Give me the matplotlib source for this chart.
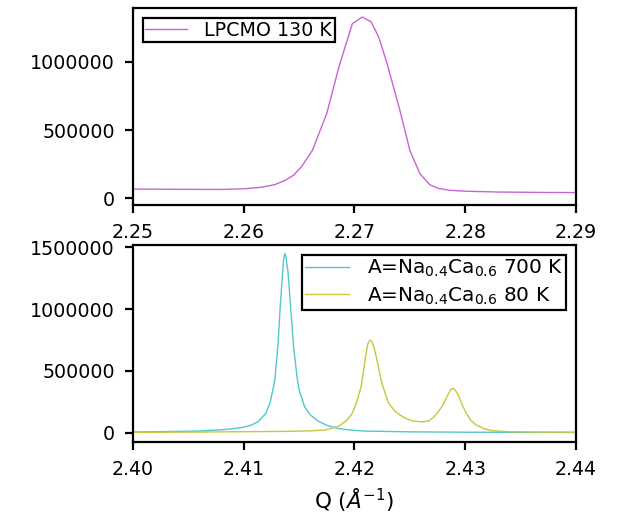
import numpy as np
import matplotlib
matplotlib.use('Agg')
import matplotlib.pyplot as plt

# Data
q_lpcmo = [2.250, 2.254, 2.258, 2.260, 2.2615, 2.2628, 2.2638, 2.2645, 2.2652, 2.2662,
           2.2675, 2.2686, 2.2698, 2.2707, 2.2715, 2.2722, 2.2729, 2.2741, 2.2750, 2.2759,
           2.2768, 2.2776, 2.2786, 2.2800, 2.2831, 2.2870, 2.2900]
i_lpcmo = [68000, 66000, 65000, 70000, 80000, 100000, 134000, 170000, 230000, 352000,
           623000, 965000, 1280000, 1330000, 1295000, 1180000, 1000000, 646000, 352000, 181000,
           100000, 72000, 59000, 52000, 46000, 43000, 42000]

q_700 = [2.400, 2.403, 2.406, 2.408, 2.409, 2.4100, 2.4107, 2.4113, 2.4120, 2.4124,
         2.4128, 2.4131, 2.4133, 2.4135, 2.4136, 2.4137, 2.4138, 2.4140, 2.4142, 2.4145,
         2.4148, 2.4150, 2.4155, 2.4160, 2.4167, 2.4175, 2.4185, 2.4195, 2.421, 2.425,
         2.430, 2.435, 2.440]
i_700 = [6000, 9000, 14000, 24000, 32000, 45000, 62000, 90000, 157000, 250000,
         420000, 720000, 1030000, 1280000, 1400000, 1450000, 1430000, 1300000, 1060000, 700000,
         460000, 345000, 210000, 145000, 95000, 60000, 35000, 22000, 13000, 7000,
         4000, 3000, 2000]

q_80 = [2.400, 2.405, 2.410, 2.414, 2.416, 2.4174, 2.4186, 2.4193, 2.4198, 2.4202,
        2.4206, 2.4210, 2.4212, 2.4214, 2.4216, 2.4218, 2.4221, 2.4224, 2.4228, 2.4231,
        2.4236, 2.4241, 2.4247, 2.4253, 2.4261, 2.4267, 2.4272, 2.4279, 2.4284, 2.4287,
        2.4289, 2.4291, 2.4294, 2.4297, 2.4301, 2.4305, 2.4310, 2.4317, 2.4325, 2.434,
        2.437, 2.440]
i_80 = [3000, 5000, 8000, 11000, 15000, 22000, 54000, 100000, 157000, 250000,
        372000, 615000, 720000, 750000, 735000, 680000, 560000, 426000, 310000, 238000,
        180000, 143000, 113000, 95000, 87000, 95000, 130000, 210000, 300000, 350000,
        360000, 345000, 300000, 230000, 157000, 100000, 62000, 32000, 16000, 8000,
        5000, 4000]

top_xticks = [2.25, 2.26, 2.27, 2.28, 2.29]
bot_xticks = [2.40, 2.41, 2.42, 2.43, 2.44]
top_yticks = [0, 500000, 1000000]
bot_yticks = [0, 500000, 1000000, 1500000]

plt.rcParams['font.size'] = 13.7
plt.rcParams['axes.linewidth'] = 1.6

fig = plt.figure(figsize=(6.2, 5.17), dpi=100)
ax1 = fig.add_axes([0.2145, 0.6035, 0.7145, 0.3805])
ax2 = fig.add_axes([0.2145, 0.1456, 0.7145, 0.3804])

ax1.plot(q_lpcmo, i_lpcmo, color='#c864d2', lw=1.0, label='LPCMO 130 K')
ax1.set_xlim(2.25, 2.29)
ax1.set_ylim(-49000, 1394000)
ax1.set_xticks(top_xticks)
ax1.set_xticklabels(['%.2f' % t for t in top_xticks])
ax1.set_yticks(top_yticks)
ax1.set_yticklabels([str(t) for t in top_yticks])

ax2.plot(q_700, i_700, color='#50c8cc', lw=1.0, label=r'A=Na$_{0.4}$Ca$_{0.6}$ 700 K')
ax2.plot(q_80, i_80, color='#c8c83c', lw=1.0, label=r'A=Na$_{0.4}$Ca$_{0.6}$ 80 K')
ax2.set_xlim(2.40, 2.44)
ax2.set_ylim(-73000, 1519000)
ax2.set_xticks(bot_xticks)
ax2.set_xticklabels(['%.2f' % t for t in bot_xticks])
ax2.set_yticks(bot_yticks)
ax2.set_yticklabels([str(t) for t in bot_yticks])
ax2.set_xlabel(r'Q ($\AA^{-1}$)', fontsize=15.5, labelpad=5)

for ax in (ax1, ax2):
    ax.tick_params(length=6, width=1.6, pad=7)

leg_kw = dict(fancybox=False, framealpha=1, edgecolor='black', borderpad=0.15,
              handlelength=2.2, handletextpad=0.9, borderaxespad=0.5, labelspacing=0.3)
l1 = ax1.legend(loc='upper left', **leg_kw)
l2 = ax2.legend(loc='upper right', fontsize=14.4, **leg_kw)
for l in (l1, l2):
    l.get_frame().set_linewidth(1.6)

fig.savefig('out.png', dpi=100)
